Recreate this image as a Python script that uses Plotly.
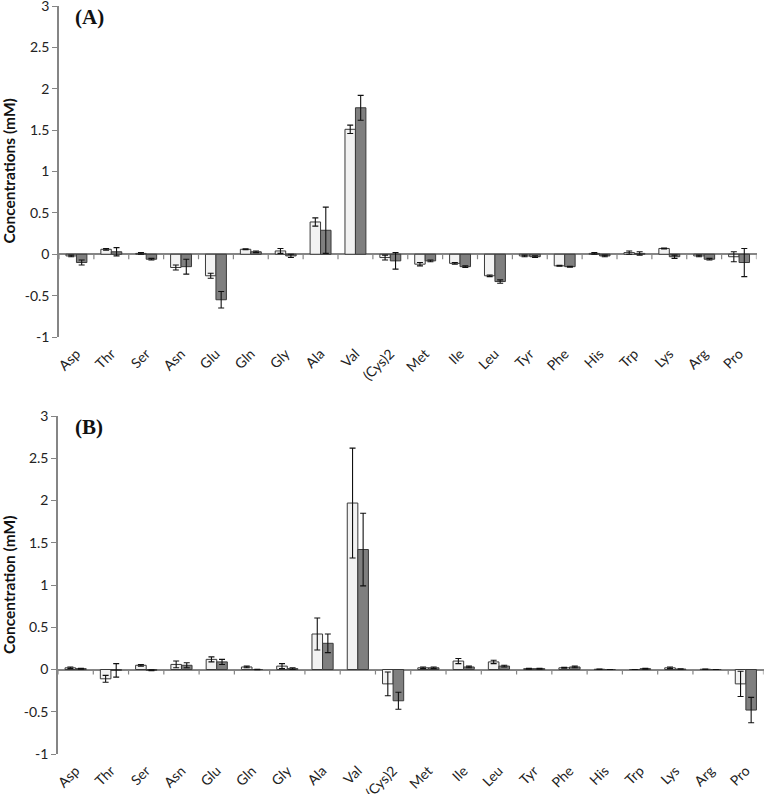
import plotly.graph_objects as go

categories = ["Asp", "Thr", "Ser", "Asn", "Glu", "Gln", "Gly", "Ala", "Val", "(Cys)2",
              "Met", "Ile", "Leu", "Tyr", "Phe", "His", "Trp", "Lys", "Arg", "Pro"]

# Panel (A)
a_light = [-0.02, 0.06, 0.01, -0.16, -0.26, 0.06, 0.04, 0.39, 1.51, -0.04,
           -0.12, -0.11, -0.26, -0.02, -0.14, 0.01, 0.02, 0.07, -0.02, -0.03]
a_light_err = [0.01, 0.01, 0.01, 0.03, 0.03, 0.005, 0.03, 0.05, 0.05, 0.03,
               0.02, 0.01, 0.01, 0.01, 0.005, 0.01, 0.02, 0.005, 0.01, 0.06]
a_dark = [-0.10, 0.03, -0.06, -0.15, -0.55, 0.03, -0.02, 0.29, 1.77, -0.08,
          -0.08, -0.15, -0.33, -0.03, -0.15, -0.02, 0.01, -0.03, -0.06, -0.10]
a_dark_err = [0.03, 0.05, 0.01, 0.09, 0.10, 0.01, 0.02, 0.28, 0.15, 0.10,
              0.01, 0.01, 0.02, 0.01, 0.005, 0.01, 0.02, 0.02, 0.01, 0.17]

# Panel (B)
b_light = [0.02, -0.11, 0.05, 0.06, 0.12, 0.03, 0.04, 0.42, 1.97, -0.17,
           0.02, 0.10, 0.09, 0.01, 0.02, 0.003, 0.0, 0.02, 0.003, -0.17]
b_light_err = [0.01, 0.04, 0.01, 0.04, 0.03, 0.01, 0.03, 0.19, 0.65, 0.14,
               0.01, 0.03, 0.02, 0.005, 0.005, 0.002, 0.0, 0.01, 0.002, 0.15]
b_dark = [0.01, -0.01, -0.01, 0.05, 0.09, 0.0, 0.01, 0.31, 1.42, -0.37,
          0.02, 0.03, 0.04, 0.01, 0.03, 0.0, 0.01, 0.005, 0.0, -0.48]
b_dark_err = [0.005, 0.08, 0.005, 0.03, 0.03, 0.003, 0.01, 0.11, 0.43, 0.10,
              0.01, 0.01, 0.01, 0.005, 0.01, 0.0, 0.005, 0.002, 0.0, 0.15]

y_ticks = [3, 2.5, 2, 1.5, 1, 0.5, 0, -0.5, -1]

W, H = 765, 794
AXIS_GREY = "#858585"
FONT = "Lato, 'Open Sans', sans-serif"

# pixel boxes of the two plot areas: (left, right, top, bottom)
panels = [
    dict(x="x", y="y", box=(59, 756.5, 6, 337), light=a_light, light_err=a_light_err,
         dark=a_dark, dark_err=a_dark_err, ytitle="Concentrations (mM)", tag="(A)"),
    dict(x="x2", y="y2", box=(58, 763.5, 416, 754), light=b_light, light_err=b_light_err,
         dark=b_dark, dark_err=b_dark_err, ytitle="Concentration (mM)", tag="(B)"),
]

fig = go.Figure()
layout = {}
annotations = []
shapes = []

for k, p in enumerate(panels):
    l, r, t, b = p["box"]
    for vals, errs, fill in ((p["light"], p["light_err"], "#f2f2f2"),
                             (p["dark"], p["dark_err"], "#7f7f7f")):
        fig.add_trace(go.Bar(
            x=categories, y=vals,
            xaxis=p["x"], yaxis=p["y"],
            marker=dict(color=fill, line=dict(color="#3a3a3a", width=1)),
            error_y=dict(type="data", array=errs, visible=True,
                         color="#111111", thickness=1.1, width=3),
            showlegend=False,
        ))
    xname = "xaxis" if k == 0 else "xaxis2"
    yname = "yaxis" if k == 0 else "yaxis2"
    layout[xname] = dict(
        domain=[l / W, r / W], anchor=p["y"], type="category",
        categoryorder="array", categoryarray=categories,
        range=[-0.5, len(categories) - 0.5],
        showline=False, showgrid=False, zeroline=False, ticks="",
        tickangle=-45, ticklabelstandoff=5, ticklabeloverflow="allow",
        tickfont=dict(family=FONT, size=14, color="#222222"),
        automargin=False, fixedrange=True,
    )
    layout[yname] = dict(
        domain=[1 - b / H, 1 - t / H], anchor=p["x"], range=[-1, 3],
        tickmode="array", tickvals=y_ticks, ticktext=[f"{v:g}" for v in y_ticks],
        showline=True, linecolor=AXIS_GREY, linewidth=1.5,
        ticks="outside", ticklen=5, tickcolor=AXIS_GREY, tickwidth=1.2,
        showgrid=False, zeroline=True, zerolinecolor=AXIS_GREY, zerolinewidth=1.5,
        ticklabeloverflow="allow",
        tickfont=dict(family=FONT, size=14, color="#222222"),
        automargin=False, fixedrange=True,
    )
    # category boundary ticks on the zero line
    for i in range(len(categories) + 1):
        shapes.append(dict(
            type="line", xref=p["x"], yref=p["y"],
            x0=i - 0.5, x1=i - 0.5, ysizemode="pixel", yanchor=0, y0=0, y1=-5,
            line=dict(color=AXIS_GREY, width=1.2),
        ))
    annotations.append(dict(
        text=p["ytitle"], textangle=-90, xref="paper", yref="paper",
        x=9 / W, y=1 - (t + b) / 2 / H, showarrow=False,
        font=dict(family=FONT, size=15.5, color="#111111", weight="bold"),
        xanchor="center", yanchor="middle",
    ))
    annotations.append(dict(
        text="<b>" + p["tag"] + "</b>", xref="paper", yref="paper",
        x=73 / W, y=1 - (t + 11) / H, showarrow=False,
        font=dict(family="'Liberation Serif', 'Times New Roman', serif", size=21, color="#111111"),
        xanchor="left", yanchor="middle",
    ))

fig.update_layout(
    **layout,
    width=W, height=H,
    margin=dict(l=0, r=0, t=0, b=0),
    paper_bgcolor="white", plot_bgcolor="white",
    barmode="group", bargap=0.4, bargroupgap=0,
    annotations=annotations, shapes=shapes,
)

fig.write_html("out.html", config={"displayModeBar": False},
               post_script="document.body.style.margin='0px';")
